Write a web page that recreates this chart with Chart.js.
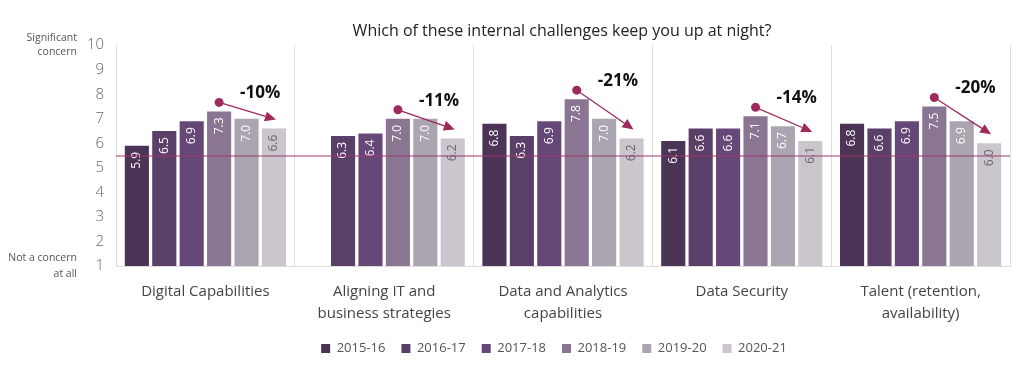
<!DOCTYPE html>
<html>
<head>
<meta charset="utf-8">
<script src="https://cdn.jsdelivr.net/npm/chart.js@4"></script>
<style>
  html, body { margin: 0; padding: 0; background: #fff; }
  #wrap { width: 1024px; height: 369px; position: relative; }
</style>
</head>
<body>
<div id="wrap"><canvas id="chart"></canvas></div>
<script>
// data
const categories = [
    'Digital Capabilities',
    ['Aligning IT and', 'business strategies'],
    ['Data and Analytics', 'capabilities'],
    'Data Security',
    ['Talent (retention,', 'availability)']
];
const years = ['2015-16', '2016-17', '2017-18', '2018-19', '2019-20', '2020-21'];
const v2015 = [5.9, null, 6.8, 6.1, 6.8];
const v2016 = [6.5, 6.3, 6.3, 6.6, 6.6];
const v2017 = [6.9, 6.4, 6.9, 6.6, 6.9];
const v2018 = [7.3, 7.0, 7.8, 7.1, 7.5];
const v2019 = [7.0, 7.0, 7.0, 6.7, 6.9];
const v2020 = [6.6, 6.2, 6.2, 6.1, 6.0];
const changes = ['-10%', '-11%', '-21%', '-14%', '-20%'];
const yTicks = [1, 2, 3, 4, 5, 6, 7, 8, 9, 10];
const refLine = 5.5;

const barColors = ['#4b3455', '#5a3f69', '#664878', '#8a7692', '#aba4b1', '#cbc6ce'];
const labelColors = ['#fff', '#fff', '#fff', '#fff', '#fff', '#666'];
const accent = '#9e2a5c';
const FONT = "'Open Sans', 'Noto Sans', sans-serif";

const allValues = [v2015, v2016, v2017, v2018, v2019, v2020];

// labels + reference line + arrows
const overlayPlugin = {
    id: 'overlay',
    afterLayout(chart) {
        // title and legend sit a bit right of the canvas centre in the original
        if (chart.titleBlock) { chart.titleBlock.left += 57; chart.titleBlock.right += 57; }
        if (chart.legend) { chart.legend.left += 49; chart.legend.right += 49; }
    },
    afterDatasetsDraw(chart) {
        const ctx = chart.ctx;
        const area = chart.chartArea;
        const y = chart.scales.y;

        // value labels inside the bars
        ctx.save();
        ctx.font = '12px ' + FONT;
        allValues.forEach((vals, d) => {
            const meta = chart.getDatasetMeta(d);
            meta.data.forEach((bar, i) => {
                if (vals[i] == null) return;
                ctx.save();
                ctx.translate(bar.x, bar.y + 6);
                ctx.rotate(-Math.PI / 2);
                ctx.fillStyle = labelColors[d];
                ctx.textAlign = 'right';
                ctx.textBaseline = 'middle';
                ctx.fillText(vals[i].toFixed(1), 0, 0);
                ctx.restore();
            });
        });
        ctx.restore();

        // reference line
        const ly = Math.round(y.getPixelForValue(refLine));
        ctx.save();
        ctx.strokeStyle = '#a2356a';
        ctx.lineWidth = 1.2;
        ctx.beginPath();
        ctx.moveTo(area.left, ly);
        ctx.lineTo(area.right, ly);
        ctx.stroke();
        ctx.restore();

        // arrows from 2018-19 to 2020-21
        const m3 = chart.getDatasetMeta(3).data;
        const m4 = chart.getDatasetMeta(4).data;
        const m5 = chart.getDatasetMeta(5).data;
        ctx.save();
        changes.forEach((txt, i) => {
            const x0 = m3[i].x, y0 = m3[i].y - 9;
            const x1 = m5[i].x + 2, y1 = m5[i].y - 9;
            const ang = Math.atan2(y1 - y0, x1 - x0);
            const hl = 11, hw = 5;
            ctx.strokeStyle = accent;
            ctx.fillStyle = accent;
            ctx.lineWidth = 1.3;
            ctx.beginPath();
            ctx.moveTo(x0, y0);
            ctx.lineTo(x1 - Math.cos(ang) * hl, y1 - Math.sin(ang) * hl);
            ctx.stroke();
            ctx.beginPath();
            ctx.moveTo(x1, y1);
            ctx.lineTo(x1 - Math.cos(ang) * hl - Math.sin(ang) * hw, y1 - Math.sin(ang) * hl + Math.cos(ang) * hw);
            ctx.lineTo(x1 - Math.cos(ang) * hl + Math.sin(ang) * hw, y1 - Math.sin(ang) * hl - Math.cos(ang) * hw);
            ctx.closePath();
            ctx.fill();
            ctx.beginPath();
            ctx.arc(x0, y0, 4.5, 0, Math.PI * 2);
            ctx.fill();

            ctx.fillStyle = '#111';
            ctx.font = 'bold 17px ' + FONT;
            ctx.textAlign = 'center';
            ctx.textBaseline = 'middle';
            ctx.fillText(txt, (m4[i].x + m5[i].x) / 2, y0 - 9);
        });
        ctx.restore();

        // y axis end captions
        ctx.save();
        ctx.fillStyle = '#555';
        ctx.font = '10.5px ' + FONT;
        ctx.textAlign = 'right';
        ctx.textBaseline = 'middle';
        const yt = y.getPixelForValue(10), yb = y.getPixelForValue(1);
        ctx.fillText('Significant', 77, yt - 7);
        ctx.fillText('concern', 77, yt + 7);
        ctx.fillText('Not a concern', 77, yb - 8);
        ctx.fillText('at all', 77, yb + 8);
        ctx.restore();
    }
};

const datasets = years.map((yr, d) => ({
    label: yr,
    data: allValues[d],
    backgroundColor: barColors[d],
    borderWidth: 0,
    categoryPercentage: 0.92,
    barPercentage: 0.88
}));

new Chart(document.getElementById('chart'), {
    type: 'bar',
    data: { labels: categories, datasets: datasets },
    options: {
        responsive: true,
        maintainAspectRatio: false,
        animation: false,
        layout: { padding: { left: 0, right: 14, top: 0, bottom: 4 } },
        plugins: {
            title: {
                display: true,
                text: 'Which of these internal challenges keep you up at night?',
                color: '#222',
                font: { family: FONT, size: 16, weight: 'normal' },
                padding: { top: 22, bottom: 4 }
            },
            legend: {
                position: 'bottom',
                labels: {
                    boxWidth: 9,
                    boxHeight: 9,
                    padding: 16,
                    color: '#555',
                    font: { family: FONT, size: 13 }
                }
            },
            tooltip: { enabled: false }
        },
        scales: {
            x: {
                afterFit: (s) => { s.height = 60; },
                grid: { color: '#dddddd', drawTicks: false, offset: true },
                border: { color: '#dddddd' },
                ticks: {
                    color: '#444',
                    font: { family: FONT, size: 15, lineHeight: 1.45 },
                    padding: 15,
                    maxRotation: 0
                }
            },
            y: {
                min: 1,
                max: 10,
                afterFit: (s) => { s.width = 116; },
                afterBuildTicks: (s) => { s.ticks = yTicks.map(v => ({ value: v })); },
                grid: { display: false, drawTicks: false },
                border: { color: '#dddddd' },
                ticks: {
                    color: '#666',
                    font: { family: FONT, size: 15, weight: '300' },
                    padding: 12
                }
            }
        }
    },
    plugins: [overlayPlugin]
});
</script>
</body>
</html>
